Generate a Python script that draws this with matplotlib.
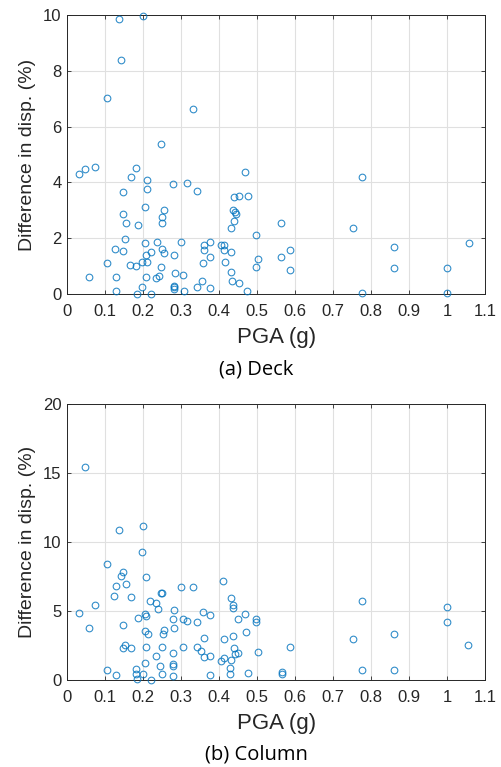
"""Scatter of displacement difference versus PGA for deck and column."""

import matplotlib.pyplot as plt

# (a) Deck
deck_pga = [
    0.137, 0.200, 0.143, 0.105, 0.332, 0.247,
    0.031, 0.047, 0.074, 0.182, 0.168, 0.210, 0.210, 0.280, 0.315, 0.343,
    0.468, 0.148, 0.438, 0.453, 0.477, 0.437, 0.441, 0.445, 0.438, 0.432,
    0.147, 0.154, 0.206, 0.256, 0.251, 0.251, 0.186, 0.153, 0.125, 0.147,
    0.104, 0.166, 0.182, 0.196, 0.211, 0.206, 0.209, 0.221, 0.237, 0.250,
    0.254, 0.246, 0.207, 0.242, 0.234, 0.282, 0.301, 0.361, 0.361, 0.375,
    0.358, 0.376, 0.406, 0.414, 0.413, 0.431, 0.416, 0.431, 0.434, 0.453,
    0.498, 0.503, 0.497, 0.129, 0.059, 0.130, 0.183, 0.198, 0.221, 0.283,
    0.306, 0.281, 0.281, 0.281, 0.307, 0.343, 0.354, 0.376, 0.474,
    0.564, 0.587, 0.564, 0.587, 0.777, 0.753, 0.860, 0.860, 0.777, 1.000,
    1.000, 1.057,
]
deck_diff = [
    9.87, 9.96, 8.39, 7.04, 6.63, 5.38,
    4.31, 4.47, 4.56, 4.50, 4.19, 4.10, 3.76, 3.95, 3.99, 3.68,
    4.37, 3.64, 3.49, 3.53, 3.50, 3.02, 2.93, 2.87, 2.63, 2.37,
    2.87, 2.56, 3.13, 3.02, 2.75, 2.55, 2.46, 1.98, 1.60, 1.53,
    1.11, 1.04, 1.02, 1.16, 1.16, 1.83, 1.39, 1.49, 1.86, 1.62,
    1.47, 0.98, 0.62, 0.66, 0.56, 1.40, 1.87, 1.76, 1.58, 1.86,
    1.10, 1.31, 1.76, 1.75, 1.58, 1.50, 1.13, 0.79, 0.46, 0.38,
    2.11, 1.26, 0.95, 0.62, 0.60, 0.12, 0.00, 0.26, 0.00, 0.74,
    0.68, 0.30, 0.24, 0.17, 0.12, 0.26, 0.46, 0.22, 0.11,
    2.54, 1.59, 1.31, 0.86, 4.20, 2.36, 1.70, 0.93, 0.02, 0.93,
    0.05, 1.82,
]

# (b) Column
column_pga = [
    0.046, 0.137, 0.199, 0.196, 0.104, 0.148, 0.141, 0.128, 0.154, 0.209,
    0.124, 0.168, 0.074, 0.031, 0.057, 0.219, 0.235, 0.239, 0.246, 0.251,
    0.205, 0.209, 0.186, 0.282, 0.279, 0.304, 0.316, 0.343, 0.300, 0.332,
    0.358, 0.375, 0.281, 0.205, 0.212, 0.254, 0.253, 0.146, 0.153, 0.147,
    0.167, 0.209, 0.250, 0.235, 0.206, 0.244, 0.279, 0.304, 0.280, 0.280,
    0.342, 0.353, 0.360, 0.361, 0.376, 0.411, 0.432, 0.437, 0.437, 0.467,
    0.451, 0.496, 0.496, 0.472, 0.437, 0.412, 0.439, 0.442, 0.451, 0.431,
    0.413, 0.404, 0.502, 0.429, 0.429, 0.475, 0.375, 0.104, 0.129, 0.181,
    0.182, 0.183, 0.199, 0.220, 0.250, 0.280,
    0.565, 0.565, 0.586, 0.777, 0.753, 0.860, 0.777, 0.860, 1.000, 1.000,
    1.056,
]
column_diff = [
    15.42, 10.84, 11.18, 9.28, 8.41, 7.81, 7.57, 6.82, 6.96, 7.45,
    6.07, 5.98, 5.47, 4.82, 3.76, 5.71, 5.59, 5.18, 6.27, 6.34,
    4.80, 4.63, 4.46, 5.08, 4.39, 4.39, 4.29, 4.17, 6.72, 6.75,
    4.92, 4.72, 3.78, 3.52, 3.37, 3.61, 3.33, 4.00, 2.53, 2.31,
    2.29, 2.41, 2.36, 1.73, 1.20, 1.01, 1.98, 2.41, 1.16, 1.04,
    2.41, 2.07, 3.08, 1.69, 1.71, 7.18, 5.95, 5.47, 5.23, 4.80,
    4.41, 4.43, 4.19, 3.45, 3.18, 2.96, 2.29, 1.86, 1.93, 1.47,
    1.57, 1.40, 2.02, 0.87, 0.41, 0.53, 0.39, 0.70, 0.34, 0.77,
    0.43, 0.10, 0.41, 0.00, 0.46, 0.31,
    0.56, 0.44, 2.39, 5.76, 2.98, 3.32, 0.71, 0.71, 5.27, 4.20,
    2.54,
]

x_ticks = [0, 0.1, 0.2, 0.3, 0.4, 0.5, 0.6, 0.7, 0.8, 0.9, 1, 1.1]
x_labels = ["0", "0.1", "0.2", "0.3", "0.4", "0.5", "0.6", "0.7", "0.8",
            "0.9", "1", "1.1"]

blue = (0.0, 0.447, 0.741)
dark = (0.15, 0.15, 0.15)
plt.rcParams["font.family"] = ["Liberation Sans", "DejaVu Sans"]

fig = plt.figure(figsize=(5.02, 7.67), dpi=100)


def draw(ax, pga, diff, ymax, yticks, caption):
    ax.plot(pga, diff, linestyle="none", marker="o", markersize=4.8,
            markerfacecolor="none", markeredgecolor=blue,
            markeredgewidth=0.8, alpha=0.8, clip_on=False, zorder=3)
    ax.set_xlim(0, 1.1)
    ax.set_ylim(0, ymax)
    ax.set_xticks(x_ticks)
    ax.set_xticklabels(x_labels)
    ax.set_yticks(yticks)
    ax.grid(True, color=(0.88, 0.88, 0.88), linewidth=0.8)
    ax.set_axisbelow(True)
    ax.tick_params(direction="in", length=3, width=0.6, colors=dark,
                   labelsize=12, top=True, right=True)
    ax.tick_params(axis="x", pad=7)
    ax.tick_params(axis="y", pad=4)
    for spine in ax.spines.values():
        spine.set_color(dark)
        spine.set_linewidth(0.7)
    ax.set_xlabel("PGA (g)", fontsize=16, color=dark, labelpad=6)
    ax.set_ylabel("Difference in disp. (%)", fontsize=14, color=dark,
                  labelpad=5)
    ax.text(0.452, -0.27, caption, transform=ax.transAxes, ha="center",
            va="center", fontsize=14.5, family=["Open Sans", "DejaVu Sans"])


ax_deck = fig.add_axes([0.1335, 0.6167, 0.833, 0.3637])
draw(ax_deck, deck_pga, deck_diff, 10, [0, 2, 4, 6, 8, 10], "(a) Deck")

ax_col = fig.add_axes([0.1335, 0.1134, 0.833, 0.3599])
draw(ax_col, column_pga, column_diff, 20, [0, 5, 10, 15, 20], "(b) Column")

fig.savefig("out.png", dpi=100)
